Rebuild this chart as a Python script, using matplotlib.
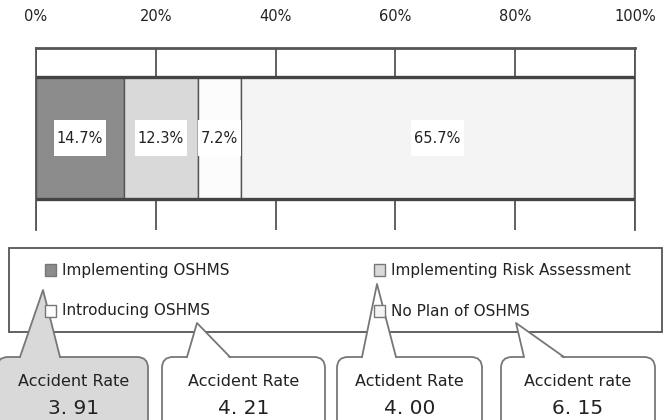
import matplotlib
matplotlib.use('Agg')
import matplotlib.pyplot as plt
from matplotlib.patches import FancyBboxPatch, Polygon, Rectangle
from matplotlib.transforms import IdentityTransform

# data
categories = ['Implementing OSHMS', 'Implementing Risk Assessment',
              'Introducing OSHMS', 'No Plan of OSHMS']
shares = [14.7, 12.3, 7.2, 65.7]
seg_colors = ['#8c8c8c', '#d9d9d9', '#fcfcfc', '#f4f4f4']
tick_values = [0, 20, 40, 60, 80, 100]
tick_labels = ['0%', '20%', '40%', '60%', '80%', '100%']
# callouts, left to right (index into categories)
callout_cats = [0, 2, 1, 3]
rate_titles = ['Accident Rate', 'Accident Rate', 'Actident Rate', 'Accident rate']
rate_values = ['3. 91', '4. 21', '4. 00', '6. 15']
callout_fill = ['#d9d9d9', 'white', 'white', 'white']

plt.rcParams['font.family'] = ['DejaVu Sans']
TXT = '#222222'
LINE = '#555555'

W, H = 668, 420
fig = plt.figure(figsize=(W / 100, H / 100), dpi=100)

# bar axes (pixel box: x 36..635, y 48..230)
ax = fig.add_axes([36 / W, 1 - 230 / H, 599 / W, 182 / H])
left = 0
bar_labels = []
for v, c in zip(shares, seg_colors):
    ax.barh(0, v, left=left, height=1, color=c, edgecolor=LINE, linewidth=1, zorder=2)
    t = ax.text(left + v / 2, 0, f'{v}%', ha='center', va='center', fontsize=10.5,
                color=TXT, zorder=5)
    bar_labels.append(t)
    left += v
ax.hlines([-0.5, 0.5], 0, 100, color='#444444', lw=2.4, zorder=3)
ax.set_xlim(0, 100)
ax.set_ylim(-0.754, 0.738)
ax.set_xticks(tick_values)
ax.set_xticklabels(tick_labels)
ax.xaxis.tick_top()
ax.tick_params(axis='x', length=0, pad=17, labelsize=10.5, labelcolor=TXT)
ax.set_yticks([])
ax.grid(axis='x', color=LINE, lw=1.3)
ax.set_axisbelow(True)
ax.spines['bottom'].set_visible(False)
for s in ['top', 'left', 'right']:
    ax.spines[s].set_color(LINE)
    ax.spines[s].set_linewidth(1.3)
ax.spines['top'].set_linewidth(2)

# white boxes behind the bar labels (tall, tight at the sides)
fig.canvas.draw()
r = fig.canvas.get_renderer()
for t in bar_labels:
    bb = t.get_window_extent(r)
    cy = (bb.y0 + bb.y1) / 2
    ax.add_patch(Rectangle((bb.x0 - 3, cy - 18), bb.width + 6, 36, transform=IdentityTransform(),
                           facecolor='white', edgecolor='none', zorder=4))

# overlay in pixel coords for legend and callouts
ov = fig.add_axes([0, 0, 1, 1])
ov.set_xlim(0, W)
ov.set_ylim(H, 0)
ov.axis('off')

# legend box
ov.add_patch(Rectangle((9, 248), 653, 84, facecolor='white', edgecolor=LINE, lw=1.3, zorder=1))
col_x = [45, 374]
row_y = [270, 311]
for i, (name, c) in enumerate(zip(categories, seg_colors)):
    x, y = col_x[i % 2], row_y[i // 2]
    ov.add_patch(Rectangle((x, y - 6), 11, 12, facecolor=c, edgecolor='#777777', lw=1, zorder=7))
    ov.text(x + 17, y, name, ha='left', va='center', fontsize=11, color=TXT, zorder=7)

# callouts
box_x = [(-3, 148), (162, 325), (337, 482), (501, 655)]
tips = [(43, 290), (197, 323), (377, 284), (516, 323)]
bases = [(20, 60), (187, 230), (362, 396), (524, 564)]
top = 357
for k, ci in enumerate(callout_cats):
    x0, x1 = box_x[k]
    ov.add_patch(FancyBboxPatch((x0, top), x1 - x0, 80,
                                boxstyle='round,pad=0,rounding_size=11',
                                facecolor=callout_fill[k], edgecolor='#777777', lw=1.3, zorder=3))
    b0, b1 = bases[k]
    tx, ty = tips[k]
    ov.add_patch(Polygon([(b0, top + 2), (tx, ty), (b1, top + 2)], closed=True,
                         facecolor=callout_fill[k], edgecolor='none', zorder=4))
    ov.plot([b0, tx, b1], [top, ty, top], color='#777777', lw=1.3, zorder=5)
    cx = (max(x0, 0) + x1) / 2
    ov.text(cx, 381, rate_titles[k], ha='center', va='center', fontsize=11.5, color=TXT, zorder=6)
    ov.text(cx, 408, rate_values[k], ha='center', va='center', fontsize=14.5, color=TXT, zorder=6)

fig.savefig('out.png', dpi=100)
